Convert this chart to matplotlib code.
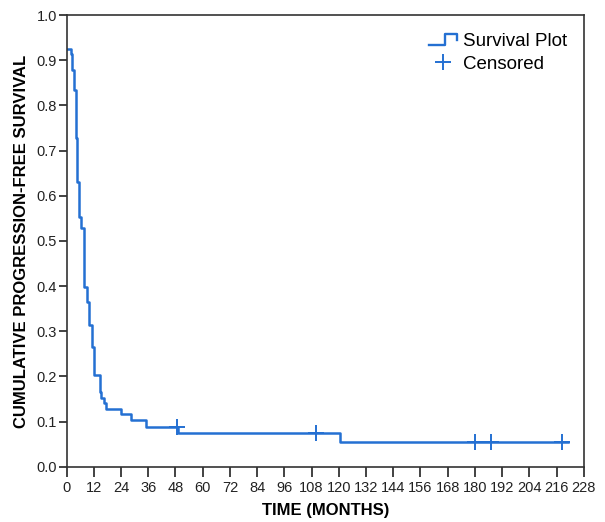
import matplotlib
matplotlib.use("Agg")
import matplotlib.pyplot as plt
from matplotlib.legend_handler import HandlerBase
from matplotlib.lines import Line2D

# Kaplan-Meier curve: time where each level starts, and the survival level
event_times = [0, 2.0, 2.3, 3.3, 4.0, 4.7, 5.4, 6.4, 7.7, 8.8, 10.0, 11.0, 12.2,
               14.7, 15.4, 16.6, 17.3, 23.8, 28.2, 35.2, 49.0, 120.6]
survival = [0.924, 0.915, 0.878, 0.834, 0.728, 0.630, 0.553, 0.528, 0.398, 0.365,
            0.314, 0.266, 0.203, 0.166, 0.152, 0.141, 0.128, 0.116, 0.103, 0.088,
            0.074, 0.054]
end_time = 221.0

# censored observations
censor_times = [48.5, 110.0, 180.2, 186.9, 218.3]
censor_surv = [0.088, 0.074, 0.054, 0.054, 0.054]

x_ticks = list(range(0, 229, 12))
y_ticks = [i / 10 for i in range(11)]

blue = "#2470d2"
plt.rcParams['font.family'] = ['Liberation Sans', 'DejaVu Sans']


class StepHandler(HandlerBase):
    # little step icon for the legend
    def create_artists(self, legend, orig_handle, xdescent, ydescent,
                       width, height, fontsize, trans):
        w, h = width, height
        xs = [0, 0.55 * w, 0.55 * w, w, w]
        ys = [0.1 * h, 0.1 * h, 0.9 * h, 0.9 * h, 0.45 * h]
        xs = [v - xdescent for v in xs]
        ys = [v - ydescent for v in ys]
        ln = Line2D(xs, ys, color=blue, lw=1.7, transform=trans)
        return [ln]


fig = plt.figure(figsize=(6.05, 5.22), dpi=100)
ax = fig.add_axes([0.110, 0.106, 0.855, 0.865])

xs = event_times + [end_time]
ys = survival + [survival[-1]]
step_line, = ax.step(xs, ys, where='post', color=blue, lw=1.8)
cens, = ax.plot(censor_times, censor_surv, linestyle='none', marker='+',
                markersize=12, markeredgewidth=1.4, color=blue)

ax.set_xlim(0, 228)
ax.set_ylim(0, 1.0)
ax.set_xticks(x_ticks)
ax.set_yticks(y_ticks)
ax.set_yticklabels([f"{v:.1f}" for v in y_ticks])
ax.tick_params(axis='both', direction='out', labelsize=10.5, width=1.2,
               colors='#222222')
ax.tick_params(axis='x', length=7, pad=3)
ax.tick_params(axis='y', length=6, pad=1)
for s in ax.spines.values():
    s.set_linewidth(1.2)
    s.set_color('#333333')

ax.set_xlabel("TIME (MONTHS)", fontweight='bold', fontsize=12, labelpad=6)
ax.set_ylabel("CUMULATIVE PROGRESSION-FREE SURVIVAL", fontweight='bold',
              fontsize=12, labelpad=5)

ax.legend([step_line, cens], ["Survival Plot", "Censored"],
          handler_map={step_line: StepHandler()},
          loc='upper right', bbox_to_anchor=(1.0, 0.998), frameon=False,
          fontsize=13.5, handlelength=1.5, handletextpad=0.3, labelspacing=0.3)

plt.savefig("out.png", dpi=100)
